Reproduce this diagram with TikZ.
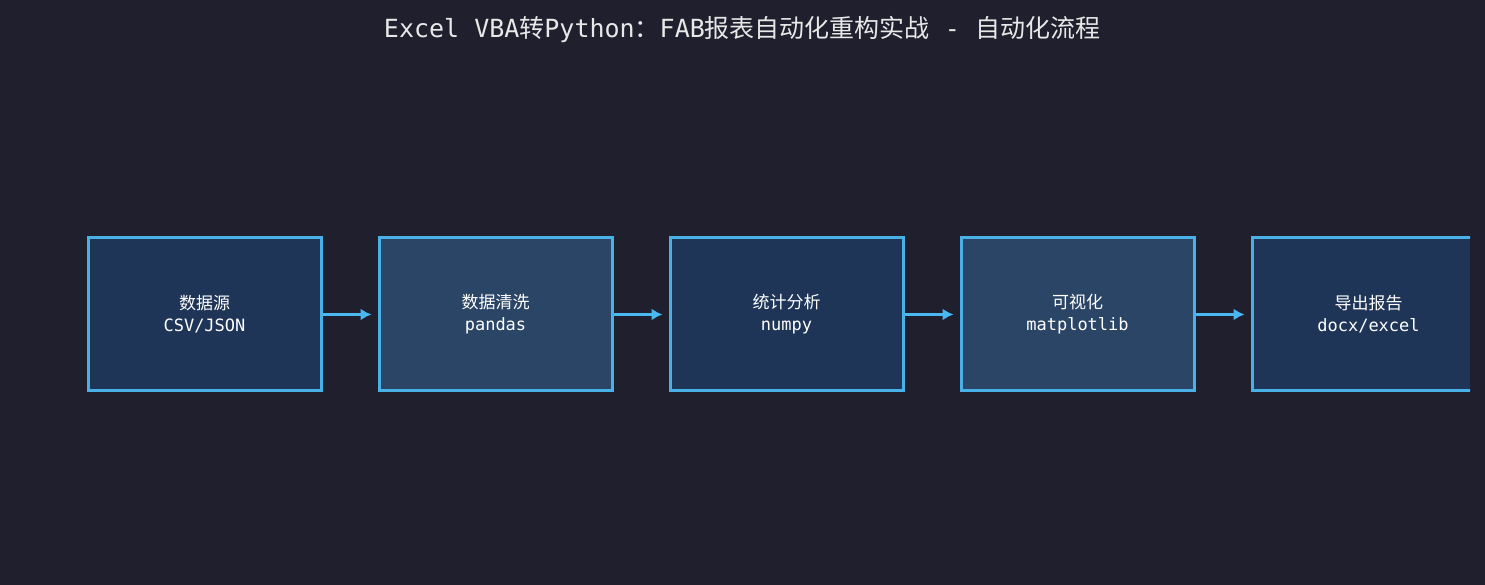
\documentclass[tikz,border=0pt]{standalone}
\usepackage{fontspec}
\newfontfamily\cjk{Noto Sans CJK SC}
\newfontfamily\mono{DejaVu Sans Mono}
\usetikzlibrary{arrows.meta}
\definecolor{bg}{HTML}{1F1F2E}
\definecolor{fa}{HTML}{1E3558}
\definecolor{fb}{HTML}{2A4566}
\definecolor{bd}{HTML}{4AB0E8}
\definecolor{ar}{HTML}{4AB8F0}
\definecolor{tx}{HTML}{E8E8E8}
\begin{document}
\begin{tikzpicture}[x=1pt,y=1pt,
  box/.style={draw=bd,line width=3pt,minimum width=233pt,minimum height=153pt,inner sep=0pt,text=white,align=center,font=\fontsize{17}{22}\selectfont},
  arr/.style={draw=ar,line width=3.5pt,-{Latex[length=11pt,width=12pt]}}]
\useasboundingbox (0,0) rectangle (1485,585);
\fill[bg] (0,0) rectangle (1485,585);
\node[text=tx,font=\fontsize{25}{28}\selectfont] (t) at (742,555) {{\mono Excel VBA}{\cjk 转}{\mono Python}{\cjk ：}{\mono FAB}{\cjk 报表自动化重构实战}{\mono\ -\ }{\cjk 自动化流程}};
\node[box,fill=fa] (b1) at (204.5,270.5) {{\cjk 数据源}\\{\mono CSV/JSON}};
\node[box,fill=fb] (b2) at (495.5,270.5) {{\cjk 数据清洗}\\{\mono pandas}};
\node[box,fill=fa] (b3) at (786.5,270.5) {{\cjk 统计分析}\\{\mono numpy}};
\node[box,fill=fb] (b4) at (1077.5,270.5) {{\cjk 可视化}\\{\mono matplotlib}};
\begin{scope}
\clip (1240,0) rectangle (1470,585);
\node[box,fill=fa,text opacity=0] (b5) at (1368.5,270.5) {{\cjk 导出报告}\\{\mono docx/excel}};
\end{scope}
\node[text=white,align=center,font=\fontsize{17}{22}\selectfont] (l5) at (1368.5,270.5) {{\cjk 导出报告}\\{\mono docx/excel}};
\draw[arr] (b1.east) -- ([xshift=-6pt]b2.west);
\draw[arr] (b2.east) -- ([xshift=-6pt]b3.west);
\draw[arr] (b3.east) -- ([xshift=-6pt]b4.west);
\draw[arr] (b4.east) -- ([xshift=-6pt]b5.west);
\end{tikzpicture}
\end{document}
